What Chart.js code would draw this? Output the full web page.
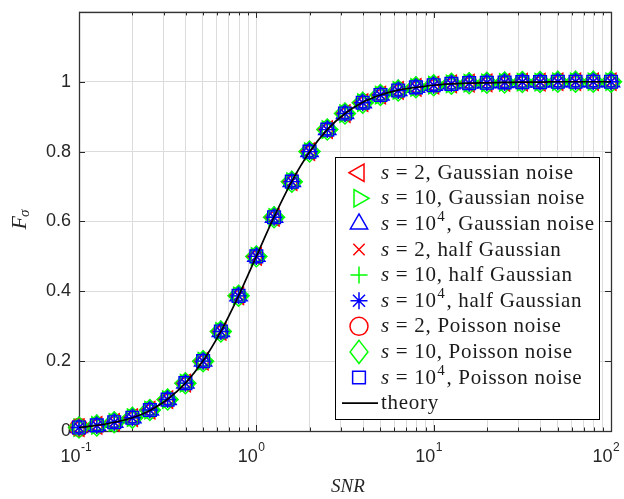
<!DOCTYPE html>
<html><head><meta charset="utf-8">
<script src="https://cdn.jsdelivr.net/npm/chart.js@4.4.1/dist/chart.umd.min.js"></script>
<style>html,body{margin:0;padding:0;background:#fff;}#wrap{width:624px;height:499px;position:relative;}</style>
</head><body><div id="wrap"><canvas id="c" width="624" height="499"></canvas></div>
<script>
// ---- data ----
const snr = [0.1,0.126,0.158,0.2,0.251,0.316,0.398,0.501,0.631,0.794,1,1.259,1.585,1.995,2.512,3.162,3.981,5.012,6.31,7.943,10,12.59,15.85,19.95,25.12,31.62,39.81,50.12,63.1,79.43,100];
const theory = [0.010,0.016,0.025,0.038,0.059,0.091,0.137,0.201,0.285,0.387,0.500,0.613,0.715,0.799,0.863,0.909,0.941,0.962,0.976,0.984,0.990,0.994,0.996,0.997,0.998,0.999,0.999,1.0,1.0,1.0,1.0];
const simulated = [0.010,0.016,0.025,0.038,0.060,0.090,0.137,0.200,0.285,0.387,0.500,0.612,0.714,0.800,0.863,0.909,0.940,0.962,0.975,0.984,0.990,0.994,0.996,0.997,0.998,0.999,0.999,1.0,1.0,1.0,1.0];
const poissonS2 = [0.010,null,null,null,null,null,null,null,null,null,null,null,null,null,null,null,null,null,null,null,null,null,null,null,null,null,null,null,null,null,null];
const seriesNames = ['s = 2, Gaussian noise','s = 10, Gaussian noise','s = 10^4, Gaussian noise','s = 2, half Gaussian','s = 10, half Gaussian','s = 10^4, half Gaussian','s = 2, Poisson noise','s = 10, Poisson noise','s = 10^4, Poisson noise','theory'];
const xTickValues = [0.1,0.2,0.3,0.4,0.5,0.6,0.7,0.8,0.9,1,2,3,4,5,6,7,8,9,10,20,30,40,50,60,70,80,90,100];
const xMajorValues = [0.1,1,10,100];
const xTickLabels = ['10^-1','10^0','10^1','10^2'];
const yTickValues = [0,0.2,0.4,0.6,0.8,1,1.2];

// ---- styles ----
const RED='#ff0000', GREEN='#00ff00', BLUE='#0000ff';
const markerStyles = [
  {c:RED,   s:'triangle', rot:-90, r:10},
  {c:GREEN, s:'triangle', rot:90,  r:10},
  {c:BLUE,  s:'triangle', rot:0,   r:10},
  {c:RED,   s:'crossRot', rot:0,   r:8},
  {c:GREEN, s:'cross',    rot:0,   r:8.5},
  {c:BLUE,  s:'star',     rot:0,   r:8.5},
  {c:RED,   s:'circle',   rot:0,   r:9},
  {c:GREEN, s:'rectRot',  rot:0,   r:10.5},
  {c:BLUE,  s:'rect',     rot:0,   r:9}
];
const seriesData = [simulated,simulated,simulated,simulated,simulated,simulated,poissonS2,simulated,simulated];

const datasets = markerStyles.map((m,i)=>({
  label: seriesNames[i],
  data: snr.map((x,k)=>({x:x, y:seriesData[i][k]})),
  showLine:false,
  pointStyle:m.s, pointRotation:m.rot, pointRadius:m.r,
  pointBorderColor:m.c, borderColor:m.c, pointBackgroundColor:'rgba(0,0,0,0)', backgroundColor:'rgba(0,0,0,0)',
  pointBorderWidth:1.4, clip:false, order: 9-i
}));
datasets.push({
  label: seriesNames[9],
  data: snr.map((x,k)=>({x:x, y:theory[k]})),
  showLine:true, borderColor:'#000', borderWidth:1.7, pointRadius:0,
  cubicInterpolationMode:'monotone', fill:false, order:0
});

const AX='#262626';
function drawMarker(ctx, m, x, y, k){
  ctx.save();
  ctx.strokeStyle=m.c; ctx.lineWidth=1.5;
  ctx.beginPath();
  const r=m.r*k, rad=m.rot*Math.PI/180;
  if(m.s==='triangle'){
    for(let j=0;j<3;j++){const a=rad+j*2*Math.PI/3; const px=x+Math.sin(a)*r, py=y-Math.cos(a)*r; j?ctx.lineTo(px,py):ctx.moveTo(px,py);} ctx.closePath();
  } else if(m.s==='crossRot'){
    const d=r*Math.SQRT1_2; ctx.moveTo(x-d,y-d);ctx.lineTo(x+d,y+d);ctx.moveTo(x-d,y+d);ctx.lineTo(x+d,y-d);
  } else if(m.s==='cross'){
    ctx.moveTo(x-r,y);ctx.lineTo(x+r,y);ctx.moveTo(x,y-r);ctx.lineTo(x,y+r);
  } else if(m.s==='star'){
    const d=r*Math.SQRT1_2; ctx.moveTo(x-r,y);ctx.lineTo(x+r,y);ctx.moveTo(x,y-r);ctx.lineTo(x,y+r);ctx.moveTo(x-d,y-d);ctx.lineTo(x+d,y+d);ctx.moveTo(x-d,y+d);ctx.lineTo(x+d,y-d);
  } else if(m.s==='circle'){
    ctx.arc(x,y,r,0,2*Math.PI);
  } else if(m.s==='rectRot'){
    ctx.moveTo(x,y-r*1.1);ctx.lineTo(x+r*0.85,y);ctx.lineTo(x,y+r*1.1);ctx.lineTo(x-r*0.85,y);ctx.closePath();
  } else if(m.s==='rect'){
    const h=r*Math.SQRT1_2; ctx.rect(x-h,y-h,2*h,2*h);
  }
  ctx.stroke(); ctx.restore();
}
const SERIF='"Liberation Serif", "DejaVu Serif", serif';
const SANS='"Liberation Sans", Arial, sans-serif';
function richSegs(label){
  const segs=[]; let rest=label;
  if(rest.startsWith('s = ')){segs.push({t:'s',it:true});segs.push({t:' = '});rest=rest.slice(4);}
  rest.split(/(\^-?\d+)/).forEach(p=>{if(!p)return; if(p[0]==='^')segs.push({t:p.slice(1),sup:true}); else segs.push({t:p});});
  return segs;
}
function drawRich(ctx, x, y, segs, sz){
  ctx.textAlign='left'; ctx.textBaseline='alphabetic';
  segs.forEach(s=>{
    if(s.sup){ctx.font=`${Math.round(sz*0.7)}px ${SERIF}`; ctx.fillText(s.t,x+0.5,y-sz*0.42); x+=ctx.measureText(s.t).width+1.5;}
    else {ctx.font=`${s.it?'italic ':''}${sz}px ${SERIF}`; ctx.fillText(s.t,x,y); x+=ctx.measureText(s.t).width;}
  });
  return x;
}

const framePlugin = {
  id:'frame',
  beforeDatasetsDraw(chart){
    const {ctx, chartArea:a, scales:{x,y}} = chart;
    ctx.save();
    ctx.strokeStyle=AX; ctx.lineWidth=1;
    ctx.beginPath();
    xTickValues.forEach(v=>{
      const p=Math.round(x.getPixelForValue(v))+0.5;
      const L = xMajorValues.includes(v)?6:3.5;
      ctx.moveTo(p,a.bottom);ctx.lineTo(p,a.bottom-L);
      ctx.moveTo(p,a.top);ctx.lineTo(p,a.top+L);
    });
    yTickValues.forEach(v=>{
      const p=Math.round(y.getPixelForValue(v))+0.5;
      ctx.moveTo(a.left,p);ctx.lineTo(a.left+6,p);
      ctx.moveTo(a.right,p);ctx.lineTo(a.right-6,p);
    });
    ctx.stroke();
    ctx.lineWidth=1.3; ctx.strokeStyle='#333';
    ctx.strokeRect(Math.round(a.left)+0.5, Math.round(a.top)+0.5, Math.round(a.width), Math.round(a.height));
    ctx.restore();
  },
  afterDraw(chart){
    const {ctx, chartArea:a, scales:{x,y}} = chart;
    ctx.save();
    ctx.fillStyle=AX;
    xMajorValues.forEach((v,i)=>{
      const p=x.getPixelForValue(v);
      const [base,exp]=xTickLabels[i].split('^');
      ctx.font=`18px ${SANS}`; ctx.textAlign='right'; ctx.textBaseline='alphabetic';
      ctx.fillText(base,p+1.5,462);
      ctx.font=`12px ${SANS}`; ctx.textAlign='left';
      ctx.fillText(exp,p+2,451);
    });
    ctx.font=`italic 19px ${SERIF}`; ctx.textAlign='center';
    ctx.fillText('SNR',(a.left+a.right)/2+3,492);
    ctx.save();
    ctx.translate(26,219); ctx.rotate(-Math.PI/2);
    ctx.font=`italic 22px ${SERIF}`; const wF=ctx.measureText('F').width;
    ctx.font=`italic 15px ${SERIF}`; const wS=ctx.measureText('σ').width;
    let sx=-(wF+wS)/2;
    ctx.textAlign='left';
    ctx.font=`italic 22px ${SERIF}`; ctx.fillText('F',sx,0);
    ctx.font=`italic 15px ${SERIF}`; ctx.fillText('σ',sx+wF-1,3);
    ctx.restore();
    // legend
    const L={x:335,y:157,w:264,h:262};
    ctx.fillStyle='#fff'; ctx.fillRect(L.x,L.y,L.w,L.h);
    ctx.strokeStyle='#000'; ctx.lineWidth=1; ctx.strokeRect(L.x+0.5,L.y+0.5,L.w,L.h);
    seriesNames.forEach((name,i)=>{
      const cy=172.7+i*25.6;
      if(i<9) drawMarker(ctx, markerStyles[i], 359, cy, 1.0);
      else { ctx.strokeStyle='#000'; ctx.lineWidth=1.6; ctx.beginPath(); ctx.moveTo(342,cy); ctx.lineTo(378,cy); ctx.stroke(); }
      ctx.fillStyle='#1a1a1a';
      try{ ctx.letterSpacing='0.7px'; }catch(e){}
      drawRich(ctx, 381, cy+6, richSegs(name), 21);
      try{ ctx.letterSpacing='0px'; }catch(e){}
    });
    ctx.restore();
  }
};

new Chart(document.getElementById('c'), {
  type:'scatter',
  data:{datasets},
  plugins:[framePlugin],
  options:{
    responsive:false, animation:false, devicePixelRatio:1, events:[],
    layout:{padding:{top:6,right:13,left:0,bottom:0}},
    plugins:{legend:{display:false}, tooltip:{enabled:false}},
    scales:{
      x:{type:'logarithmic', min:0.1, max:100, position:'bottom',
         afterBuildTicks(s){ s.ticks = xTickValues.map(v=>({value:v})); },
         afterFit(s){ s.height=68; s.paddingLeft=0; s.paddingRight=0; },
         ticks:{display:false, autoSkip:false},
         grid:{color:'#dcdcdc', lineWidth:1, drawTicks:false},
         border:{display:false}},
      y:{type:'linear', min:0, max:1.2,
         afterBuildTicks(s){ s.ticks = yTickValues.map(v=>({value:v})); },
         afterFit(s){ s.width=79; s.paddingTop=0; s.paddingBottom=0; },
         ticks:{padding:8, color:AX, font:{family:'"Liberation Sans", Arial, sans-serif', size:18},
           callback:(v)=> v>1.01 ? '' : String(Number(v.toFixed(1)))},
         grid:{color:'#dcdcdc', lineWidth:1, drawTicks:false},
         border:{display:false}}
    }
  }
});
</script></body></html>
